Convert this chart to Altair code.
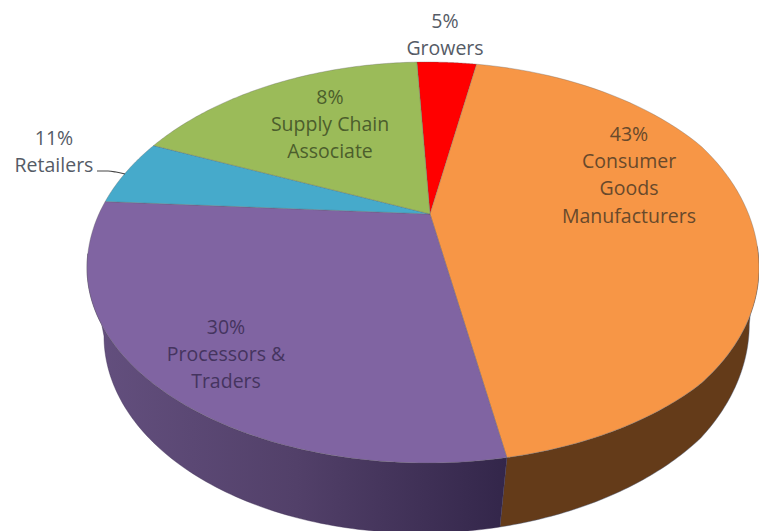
import math
import altair as alt

# --- values ---
segments = ["Growers", "Consumer Goods Manufacturers", "Processors & Traders", "Retailers", "Supply Chain Associate"]
printed_percent = [5, 43, 30, 11, 8]            # what the labels say
drawn_share = [2.8, 43.9, 34.0, 4.9, 14.4]      # share of the turn each slice occupies in the drawing

# --- styles ---
face_colors = ["#ff0000", "#f79646", "#8064a2", "#46aacb", "#9bbb59"]
text_colors = ["#555b66", "#68492b", "#45345f", "#555b66", "#4c5e2c"]
FONT = "Open Sans"
FONT_SIZE = 19.5

# --- layout (page pixels) ---
W, H = 751, 523
OFF = 8
START = -91.7
APEX = (430, 214)
CX, CY, RX, RY_UP, RY_DOWN = 427, 268, 340, 206, 195
BX, BY, BRX, BRY, TILT = 430, 330, 326, 203, -6
SQUEEZE_FROM, SQUEEZE_TOP, PAGE_RIGHT = 700, 767, 759
label_anchor = [(445, 22), (629, 135), (226, 328), (54, 139), (330, 98)]
first_gap = [26.5, 27.2, 27.2, 27.2, 27.2]
LINE_GAP = 27.2
label_lines = [
    ["Growers"],
    ["Consumer", "Goods", "Manufacturers"],
    ["Processors &", "Traders"],
    ["Retailers"],
    ["Supply Chain", "Associate"],
]
leader_path = [(97, 171), (108, 171), (116, 172), (125, 174)]


def squeeze(x):
    # keep the far right rim inside the drawable page
    if x <= SQUEEZE_FROM:
        return x
    return SQUEEZE_FROM + (x - SQUEEZE_FROM) * (PAGE_RIGHT - SQUEEZE_FROM) / (SQUEEZE_TOP - SQUEEZE_FROM)


def top_pt(deg):
    t = math.radians(deg)
    s = math.sin(t)
    return [squeeze(CX + RX * math.cos(t)), CY + (RY_DOWN if s > 0 else RY_UP) * s]


def bot_pt(deg):
    t = math.radians(deg)
    return [squeeze(BX + BRX * math.cos(t)), BY + BRY * math.sin(t) + TILT * math.cos(t)]


def sweep(fn, a, b, n=90):
    return [fn(a + (b - a) * i / n) for i in range(n + 1)]


def feature(ring, name):
    return {"type": "Feature", "properties": {"name": name},
            "geometry": {"type": "Polygon", "coordinates": [ring + [ring[0]]]}}


# boundary angles from the drawn shares
bounds = [START]
for share in drawn_share:
    bounds.append(bounds[-1] + share * 3.6)

faces = []
for i, name in enumerate(segments):
    ring = [list(APEX)] + sweep(top_pt, bounds[i], bounds[i + 1])
    faces.append(feature(ring, name))

# side wall pieces: orange runs from the right extreme to the slice edge, purple from there to the left
orange_end = bounds[2]
wall_edge = orange_end + 1.2
wall_orange = feature(sweep(bot_pt, 0, wall_edge) + sweep(top_pt, orange_end, -6), "wall_orange")
wall_purple = feature(sweep(bot_pt, wall_edge, 180) + sweep(top_pt, 184, orange_end), "wall_purple")

proj = dict(type="identity", scale=1, translate=[-OFF, -OFF])

wall_o = alt.Chart(alt.Data(values=[wall_orange])).mark_geoshape(
    fill="#643b19", stroke="#4a5f80", strokeWidth=0.6, strokeOpacity=0.7
).project(**proj)

wall_p = alt.Chart(alt.Data(values=[wall_purple])).mark_geoshape(
    fill=alt.Gradient(
        gradient="linear", x1=0, x2=1, y1=0, y2=0,
        stops=[
            alt.GradientStop(offset=0, color="#64507f"),
            alt.GradientStop(offset=0.5, color="#524069"),
            alt.GradientStop(offset=1, color="#33264a"),
        ],
    ),
    stroke="#3a2c50", strokeWidth=0.4,
).project(**proj)

top = alt.Chart(alt.Data(values=faces)).mark_geoshape(
    stroke="#5f5f5f", strokeWidth=0.6, strokeOpacity=0.55
).encode(
    color=alt.Color("properties.name:N", legend=None,
                    scale=alt.Scale(domain=segments, range=face_colors))
).project(**proj)

rows = []
for pct, (ax, ay), lines, col, gap in zip(printed_percent, label_anchor, label_lines, text_colors, first_gap):
    rows.append({"t": f"{pct}%", "x": ax - OFF, "y": ay - OFF, "c": col})
    for k, line in enumerate(lines):
        rows.append({"t": line, "x": ax - OFF, "y": ay - OFF + gap + k * LINE_GAP, "c": col})

texts = alt.Chart(alt.Data(values=rows)).mark_text(
    font=FONT, fontSize=FONT_SIZE, align="center", baseline="middle"
).encode(
    x=alt.X("x:Q", scale=None, axis=None),
    y=alt.Y("y:Q", scale=None, axis=None),
    text="t:N",
    color=alt.Color("c:N", scale=None),
)

leader = alt.Chart(alt.Data(values=[{"x": x - OFF, "y": y - OFF, "o": i} for i, (x, y) in enumerate(leader_path)])).mark_line(
    color="#444444", strokeWidth=1.2, interpolate="monotone"
).encode(
    x=alt.X("x:Q", scale=None, axis=None),
    y=alt.Y("y:Q", scale=None, axis=None),
    order="o:Q",
)

chart = alt.layer(wall_o, wall_p, top, leader, texts).properties(
    width=W, height=H, padding=0, autosize=alt.AutoSizeParams(type="none"),
    background="white",
).configure_view(stroke=None)

chart.save("out.html", embed_options={"renderer": "svg", "actions": False})
